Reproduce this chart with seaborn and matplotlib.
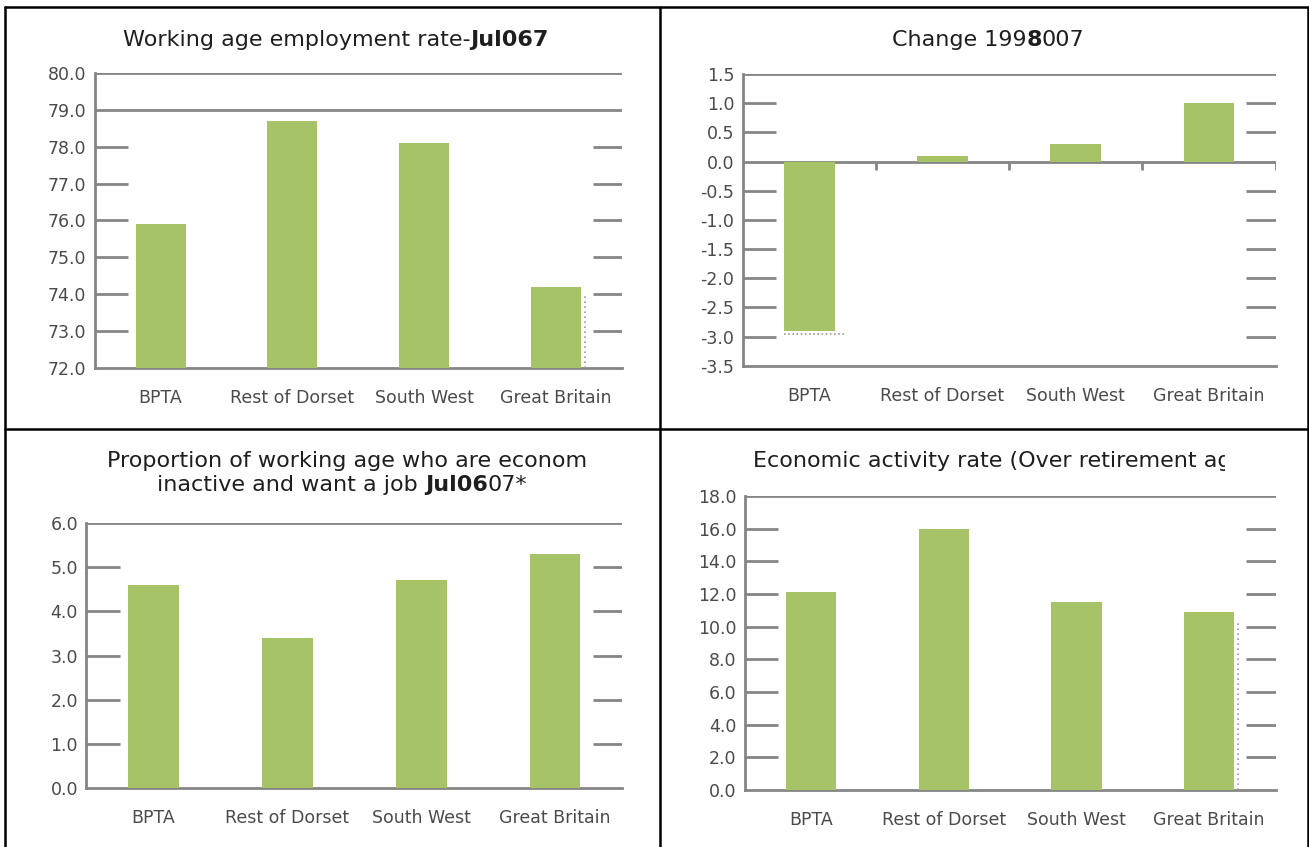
import matplotlib
matplotlib.use("Agg")
import matplotlib.pyplot as plt
import seaborn as sns
from matplotlib.lines import Line2D
from matplotlib.transforms import Bbox

# ---- data -------------------------------------------------------------
regions = ["BPTA", "Rest of Dorset", "South West", "Great Britain"]

employment_rate = [75.9, 78.7, 78.1, 74.2]          # working age employment rate, %
employment_change = [-2.9, 0.1, 0.3, 1.0]            # change 1998-2007, points
inactive_want_job = [4.6, 3.4, 4.7, 5.3]             # inactive and want a job, %
activity_over_retirement = [12.1, 16.0, 11.5, 10.9]  # activity rate over retirement age, %

employment_ticks = [72.0, 73.0, 74.0, 75.0, 76.0, 77.0, 78.0, 79.0, 80.0]
change_ticks = [-3.5, -3.0, -2.5, -2.0, -1.5, -1.0, -0.5, 0.0, 0.5, 1.0, 1.5]
inactive_ticks = [0.0, 1.0, 2.0, 3.0, 4.0, 5.0, 6.0]
activity_ticks = [0.0, 2.0, 4.0, 6.0, 8.0, 10.0, 12.0, 14.0, 16.0, 18.0]

# ---- style ------------------------------------------------------------
W, H = 1309, 847
GREEN = "#a6c368"
AXIS_GREY = "#858585"
LABEL_GREY = "#4a4a4a"
TITLE_COLOR = "#1e1e1e"
BORDER = "#000000"

sns.set_theme(style="white")
plt.rcParams["font.family"] = ["DejaVu Sans"]

fig = plt.figure(figsize=(W / 100, H / 100), dpi=100)
fig.patch.set_facecolor("white")


def px_rect(left, top, right, bottom):
    """Axes rectangle from pixel edges (origin top-left)."""
    return [left / W, 1 - bottom / H, (right - left) / W, (bottom - top) / H]


def draw_panel(ax, values, ticks, full_lines, axis_at_zero=False, dotted=None):
    sns.barplot(x=regions, y=values, color=GREEN, saturation=1, width=0.38,
                linewidth=0, edgecolor=GREEN, ax=ax, zorder=3)
    ax.set_xlim(-0.5, len(regions) - 0.5)
    ax.set_ylim(ticks[0], ticks[-1])
    ax.set_xlabel("")
    ax.set_ylabel("")
    ax.set_facecolor("white")

    for side in ("top", "right"):
        ax.spines[side].set_visible(False)
    for side in ("left", "bottom"):
        ax.spines[side].set_color(AXIS_GREY)
        ax.spines[side].set_linewidth(2.0)

    ax.set_yticks(ticks)
    ax.set_yticklabels([f"{t:.1f}" for t in ticks])
    ax.tick_params(axis="y", length=3, width=2, color=AXIS_GREY, pad=3,
                   labelsize=12.5, labelcolor=LABEL_GREY)
    ax.tick_params(axis="x", which="major", length=0, pad=15,
                   labelsize=12.5, labelcolor=LABEL_GREY)

    x0, x1 = ax.get_xlim()
    boundaries = [i + 0.5 for i in range(len(regions))]
    if axis_at_zero:
        ax.hlines(0, x0, x1, color=AXIS_GREY, lw=2.0, zorder=2)
        span = ticks[-1] - ticks[0]
        ax.vlines(boundaries, 0, -0.028 * span, color=AXIS_GREY, lw=2.0, zorder=2)
    else:
        ax.set_xticks(boundaries, minor=True)
        ax.tick_params(axis="x", which="minor", length=5, width=2,
                       color=AXIS_GREY, direction="out")

    # horizontal rules: full width at the top, short stubs on both sides elsewhere
    for t in ticks[1:]:
        if axis_at_zero and t == 0:
            continue
        if t in full_lines:
            ax.hlines(t, x0, x1, color=AXIS_GREY, lw=2.0, zorder=2)
        else:
            ax.hlines(t, x0, x0 + 0.25, color=AXIS_GREY, lw=2.0, zorder=2)
            ax.hlines(t, x1 - 0.22, x1, color=AXIS_GREY, lw=2.0, zorder=2)

    if dotted is not None:
        kind, idx = dotted
        bar = ax.patches[idx]
        if kind == "v":
            xr = bar.get_x() + bar.get_width() + 0.03
            ax.vlines(xr, ticks[0], values[idx] - 0.03 * (ticks[-1] - ticks[0]),
                      color="#9a9a9a", lw=1.2, linestyles=(0, (1, 2)), zorder=4)
        else:
            yb = values[idx] - 0.05
            ax.hlines(yb, bar.get_x(), bar.get_x() + bar.get_width() + 0.08,
                      color="#9a9a9a", lw=1.2, linestyles=(0, (1, 1.5)), zorder=4)


ax1 = fig.add_axes(px_rect(94.7, 72.7, 622, 368.3))
draw_panel(ax1, employment_rate, employment_ticks, full_lines=[80.0, 79.0],
           dotted=("v", 3))

ax2 = fig.add_axes(px_rect(742.6, 74, 1275.5, 365.7))
draw_panel(ax2, employment_change, change_ticks, full_lines=[1.5],
           axis_at_zero=True, dotted=("h", 0))

ax3 = fig.add_axes(px_rect(86.3, 522.7, 622, 788.3))
draw_panel(ax3, inactive_want_job, inactive_ticks, full_lines=[6.0])

ax4 = fig.add_axes(px_rect(744.7, 496, 1275.5, 790))
draw_panel(ax4, activity_over_retirement, activity_ticks, full_lines=[18.0],
           dotted=("v", 3))

# ---- titles -------------------------------------------------------------
renderer = fig.canvas.get_renderer()
TKW = dict(fontsize=16, color=TITLE_COLOR, va="center", ha="left")


def width_of(s, **extra):
    kw = dict(TKW)
    kw.update(extra)
    t = fig.text(0, 0, s, **kw)
    w = t.get_window_extent(renderer).width
    t.remove()
    return w


def put(x_px, y_px, s, **extra):
    kw = dict(TKW)
    kw.update(extra)
    return fig.text(x_px / W, 1 - y_px / H, s, **kw)


def put_run(center_x, y, parts):
    """Write a title made of consecutive pieces, some of them heavier."""
    widths = [width_of(s, fontweight=w) for s, w in parts]
    x = center_x - sum(widths) / 2
    for (s, w), wd in zip(parts, widths):
        put(x, y, s, fontweight=w)
        x += wd


put_run(336, 40, [("Working age employment rate-", "normal"), ("Jul067", "bold")])
put_run(988, 40, [("Change 199", "normal"), ("8", "bold"), ("007", "normal")])

put(347, 461, "Proportion of working age who are econom", ha="center")
put_run(342, 485, [("inactive and want a job ", "normal"), ("Jul06", "bold"),
                   ("07*", "normal")])

# Title 4, cut off at the chart edge
t4 = put(753, 461, "Economic activity rate (Over retirement age)")
cut = 753 + width_of("Economic activity rate (Over retirement a") + 0.55 * width_of("g")
t4.set_clip_box(Bbox([[0, 0], [cut, H]]))
t4.set_clip_on(True)

# ---- table rules ----------------------------------------------------------
def rule(x0, y0, x1, y1, lw=1.8):
    fig.add_artist(Line2D([x0 / W, x1 / W], [1 - y0 / H, 1 - y1 / H],
                          transform=fig.transFigure, color=BORDER, lw=lw))


rule(5, 7.5, 1308, 7.5)
rule(5, 7.5, 5, H)
rule(660, 7.5, 660, H)
rule(1307.5, 7.5, 1307.5, H)
rule(5, 429, 1308, 429)

fig.savefig("out.png", dpi=100, facecolor="white")
